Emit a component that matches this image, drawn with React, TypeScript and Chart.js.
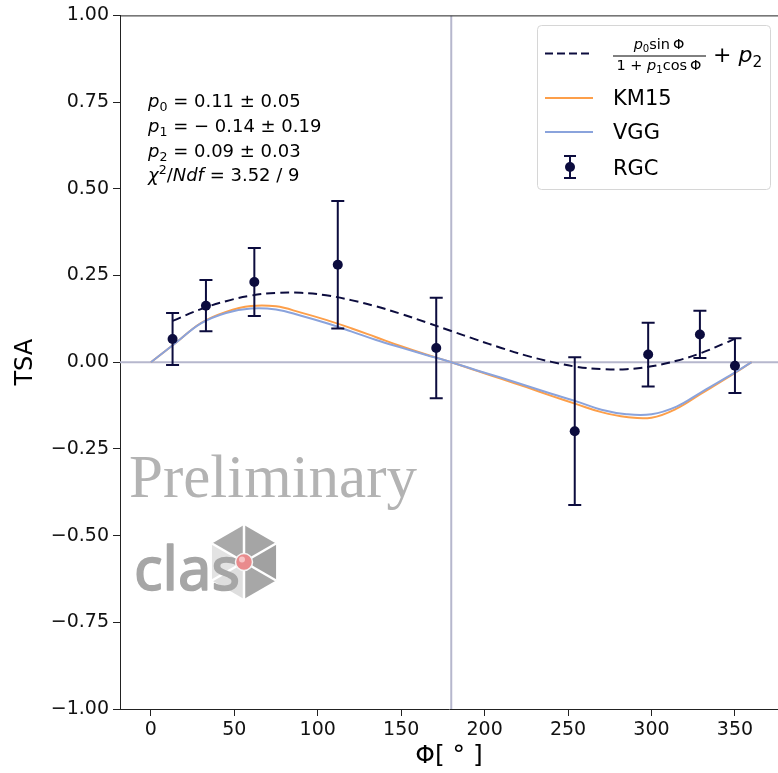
import React, { useEffect, useRef } from 'react';
import { Chart, registerables } from 'chart.js';

Chart.register(...registerables);

// ---------- data ----------
const phiPoints = [13, 33, 62, 112, 171, 254, 298, 329, 350];
const tsaValues = [0.067, 0.163, 0.231, 0.281, 0.041, -0.199, 0.022, 0.08, -0.01];
const tsaErrors = [0.075, 0.074, 0.098, 0.184, 0.145, 0.213, 0.092, 0.068, 0.079];

const fitPhi = [13, 30, 45, 60, 75, 90, 105, 120, 135, 150, 165, 180, 195, 210, 225, 240, 255, 270, 285, 300, 315, 330, 345, 350];
const fitValues = [0.119, 0.153, 0.176, 0.192, 0.2, 0.2, 0.193, 0.179, 0.161, 0.139, 0.115, 0.09, 0.065, 0.041, 0.019, 0.001, -0.013, -0.02, -0.02, -0.012, 0.004, 0.027, 0.057, 0.068];

const modelPhi = [0, 15, 30, 45, 60, 75, 90, 105, 120, 135, 150, 165, 180, 195, 210, 225, 240, 255, 270, 285, 300, 315, 330, 345, 360];
const km15Values = [0, 0.056, 0.113, 0.145, 0.162, 0.161, 0.143, 0.122, 0.098, 0.072, 0.046, 0.022, 0, -0.024, -0.048, -0.072, -0.097, -0.121, -0.144, -0.158, -0.16, -0.134, -0.09, -0.046, 0];
const vggValues = [0, 0.056, 0.112, 0.142, 0.155, 0.152, 0.134, 0.113, 0.089, 0.064, 0.042, 0.021, 0, -0.023, -0.045, -0.068, -0.091, -0.113, -0.137, -0.15, -0.15, -0.128, -0.086, -0.044, 0];

const refPhi = [180];
const refTsa = [0];

const xTickValues = [0, 50, 100, 150, 200, 250, 300, 350];
const xTickLabels = ['0', '50', '100', '150', '200', '250', '300', '350'];
const yTickValues = [-1, -0.75, -0.5, -0.25, 0, 0.25, 0.5, 0.75, 1];
const yTickLabels = ['\u22121.00', '\u22120.75', '\u22120.50', '\u22120.25', '0.00', '0.25', '0.50', '0.75', '1.00'];

const fitParamValues = ['0.11', '\u2212 0.14', '0.09'];
const fitParamErrors = ['0.05', '0.19', '0.03'];
const chi2Text = '3.52';
const ndfText = '9';

const legendLabels = ['KM15', 'VGG', 'RGC'];

// ---------- styles ----------
const FONT = '"DejaVu Sans", sans-serif';
const NAVY = '#0c0c3e';
const ORANGE = '#fd9f4a';
const BLUE = '#8aa3dc';
const REF = '#b6b7cd';

type Seg = { t: string; i?: boolean; s?: 'sub' | 'sup' };

function drawSegs(ctx: CanvasRenderingContext2D, segs: Seg[], x: number, y: number, size: number, align: 'left' | 'center') {
  const fontFor = (g: Seg) => `${g.i ? 'italic ' : ''}${g.s ? size * 0.7 : size}px ${FONT}`;
  const widths = segs.map((g) => {
    ctx.font = fontFor(g);
    return ctx.measureText(g.t).width;
  });
  const total = widths.reduce((a, b) => a + b, 0);
  let cx = align === 'center' ? x - total / 2 : x;
  ctx.textAlign = 'left';
  ctx.textBaseline = 'alphabetic';
  segs.forEach((g, k) => {
    ctx.font = fontFor(g);
    const dy = g.s === 'sub' ? size * 0.22 : g.s === 'sup' ? -size * 0.4 : 0;
    ctx.fillText(g.t, cx, y + dy);
    cx += widths[k];
  });
}

const framePlugin = {
  id: 'frameTop',
  afterDraw(chart: any) {
    const { ctx, chartArea } = chart;
    ctx.save();
    ctx.strokeStyle = '#222';
    ctx.lineWidth = 1;
    ctx.beginPath();
    ctx.moveTo(chartArea.left, chartArea.top + 0.5);
    ctx.lineTo(chartArea.right, chartArea.top + 0.5);
    ctx.stroke();
    ctx.restore();
  },
};

const errorBarPlugin = {
  id: 'errorBars',
  beforeDatasetDraw(chart: any, args: any) {
    if (chart.data.datasets[args.index].label !== 'RGC') return;
    const { ctx, scales } = chart;
    const x = scales.x;
    const y = scales.y;
    ctx.save();
    ctx.strokeStyle = NAVY;
    ctx.lineWidth = 2;
    phiPoints.forEach((p, i) => {
      const px = x.getPixelForValue(p);
      const top = y.getPixelForValue(tsaValues[i] + tsaErrors[i]);
      const bot = y.getPixelForValue(tsaValues[i] - tsaErrors[i]);
      ctx.beginPath();
      ctx.moveTo(px, top);
      ctx.lineTo(px, bot);
      ctx.moveTo(px - 6.5, top);
      ctx.lineTo(px + 6.5, top);
      ctx.moveTo(px - 6.5, bot);
      ctx.lineTo(px + 6.5, bot);
      ctx.stroke();
    });
    ctx.restore();
  },
};

const overlayPlugin = {
  id: 'overlay',
  beforeDatasetsDraw(chart: any) {
    const ctx: CanvasRenderingContext2D = chart.ctx;
    ctx.save();
    // fit parameter text box
    ctx.fillStyle = '#000';
    const base = [107, 132, 157, 181];
    for (let k = 0; k < 3; k++) {
      drawSegs(ctx, [
        { t: 'p', i: true },
        { t: String(k), s: 'sub' },
        { t: ` = ${fitParamValues[k]} \u00b1 ${fitParamErrors[k]}` },
      ], 148, base[k], 18, 'left');
    }
    drawSegs(ctx, [
      { t: '\u03c7', i: true },
      { t: '2', s: 'sup' },
      { t: '/' },
      { t: 'Ndf', i: true },
      { t: ` = ${chi2Text} / ${ndfText}` },
    ], 148, base[3], 18, 'left');

    // Preliminary watermark
    ctx.font = '61px "Liberation Serif", "DejaVu Serif", serif';
    ctx.fillStyle = '#b3b3b3';
    ctx.textAlign = 'left';
    ctx.textBaseline = 'alphabetic';
    ctx.fillText('Preliminary', 129, 497);

    // clas logo
    const cx = 244, cy = 562, R = 37;
    const verts: [number, number][] = [];
    for (let a = 0; a < 6; a++) {
      const ang = (-90 + 60 * a) * Math.PI / 180;
      verts.push([cx + R * Math.cos(ang), cy + R * Math.sin(ang)]);
    }
    const faceColors = ['#a5a5a5', '#a1a1a1', '#a7a7a7', '#dedede', '#e3e3e3', '#a9a9a9'];
    for (let a = 0; a < 6; a++) {
      const v1 = verts[a];
      const v2 = verts[(a + 1) % 6];
      ctx.beginPath();
      ctx.moveTo(cx, cy);
      ctx.lineTo(v1[0], v1[1]);
      ctx.lineTo(v2[0], v2[1]);
      ctx.closePath();
      ctx.fillStyle = faceColors[a];
      ctx.fill();
    }
    ctx.strokeStyle = '#ffffff';
    ctx.lineWidth = 2.5;
    for (let a = 0; a < 6; a++) {
      ctx.beginPath();
      ctx.moveTo(cx, cy);
      ctx.lineTo(verts[a][0], verts[a][1]);
      ctx.stroke();
    }
    ctx.font = '60px "Noto Sans", sans-serif';
    ctx.fillStyle = '#a6a6a6';
    ctx.strokeStyle = '#a6a6a6';
    ctx.lineWidth = 1.6;
    ctx.lineJoin = 'round';
    ctx.fillText('clas', 134, 590, 106);
    ctx.strokeText('clas', 134, 590, 106);
    ctx.beginPath();
    ctx.arc(cx, cy, 8.5, 0, Math.PI * 2);
    ctx.fillStyle = '#e98b8d';
    ctx.fill();
    ctx.strokeStyle = '#f4f4f4';
    ctx.lineWidth = 1.5;
    ctx.stroke();
    ctx.beginPath();
    ctx.arc(cx - 2, cy - 2.5, 3, 0, Math.PI * 2);
    ctx.fillStyle = '#f7c4c6';
    ctx.fill();
    ctx.restore();
  },
  afterDraw(chart: any) {
    const ctx: CanvasRenderingContext2D = chart.ctx;
    ctx.save();
    // legend frame
    const bx = 537.5, by = 25.5, bw = 233, bh = 164, r = 4;
    ctx.beginPath();
    ctx.moveTo(bx + r, by);
    ctx.lineTo(bx + bw - r, by);
    ctx.quadraticCurveTo(bx + bw, by, bx + bw, by + r);
    ctx.lineTo(bx + bw, by + bh - r);
    ctx.quadraticCurveTo(bx + bw, by + bh, bx + bw - r, by + bh);
    ctx.lineTo(bx + r, by + bh);
    ctx.quadraticCurveTo(bx, by + bh, bx, by + bh - r);
    ctx.lineTo(bx, by + r);
    ctx.quadraticCurveTo(bx, by, bx + r, by);
    ctx.closePath();
    ctx.fillStyle = 'rgba(255,255,255,0.8)';
    ctx.fill();
    ctx.strokeStyle = '#d6d6d6';
    ctx.lineWidth = 1;
    ctx.stroke();

    // dashed sample
    ctx.strokeStyle = NAVY;
    ctx.lineWidth = 2;
    ctx.setLineDash([8, 4]);
    ctx.beginPath();
    ctx.moveTo(545, 53.5);
    ctx.lineTo(593, 53.5);
    ctx.stroke();
    ctx.setLineDash([]);
    // fraction label
    ctx.fillStyle = '#000';
    drawSegs(ctx, [{ t: 'p', i: true }, { t: '0', s: 'sub' }, { t: 'sin\u2009\u03a6' }], 659, 49, 14.5, 'center');
    ctx.lineWidth = 1;
    ctx.strokeStyle = '#000';
    ctx.beginPath();
    ctx.moveTo(613, 56);
    ctx.lineTo(706, 56);
    ctx.stroke();
    drawSegs(ctx, [{ t: '1 + ' }, { t: 'p', i: true }, { t: '1', s: 'sub' }, { t: 'cos\u2009\u03a6' }], 659, 70, 14.5, 'center');
    drawSegs(ctx, [{ t: '+ ' }, { t: 'p', i: true }, { t: '2', s: 'sub' }], 713, 62, 22, 'left');

    // KM15
    ctx.strokeStyle = ORANGE;
    ctx.lineWidth = 2;
    ctx.beginPath();
    ctx.moveTo(545, 98);
    ctx.lineTo(593, 98);
    ctx.stroke();
    // VGG
    ctx.strokeStyle = BLUE;
    ctx.beginPath();
    ctx.moveTo(545, 132);
    ctx.lineTo(593, 132);
    ctx.stroke();
    // RGC
    ctx.strokeStyle = NAVY;
    ctx.beginPath();
    ctx.moveTo(570, 156);
    ctx.lineTo(570, 178);
    ctx.moveTo(564, 156);
    ctx.lineTo(576, 156);
    ctx.moveTo(564, 178);
    ctx.lineTo(576, 178);
    ctx.stroke();
    ctx.beginPath();
    ctx.arc(570, 167, 5, 0, Math.PI * 2);
    ctx.fillStyle = NAVY;
    ctx.fill();

    ctx.fillStyle = '#000';
    ctx.font = `21px ${FONT}`;
    ctx.textAlign = 'left';
    ctx.textBaseline = 'alphabetic';
    ctx.fillText(legendLabels[0], 613, 105);
    ctx.fillText(legendLabels[1], 613, 139);
    ctx.fillText(legendLabels[2], 613, 175);
    ctx.restore();
  },
};

export default function App() {
  const ref = useRef<HTMLCanvasElement>(null);

  useEffect(() => {
    const canvas = ref.current;
    if (!canvas) return;
    const xy = (xs: number[], ys: number[]) => xs.map((v, i) => ({ x: v, y: ys[i] }));
    const axisGrid = { drawOnChartArea: false, drawTicks: true, tickLength: 7, tickColor: '#222', tickWidth: 1 };
    const axisBorder = { display: true, color: '#222', width: 1 };
    const chart = new Chart(canvas, {
      type: 'scatter',
      data: {
        datasets: [
          {
            label: 'RGC',
            data: xy(phiPoints, tsaValues),
            pointRadius: 5,
            pointBackgroundColor: NAVY,
            pointBorderColor: NAVY,
            pointBorderWidth: 0,
            showLine: false,
            order: 0,
          },
          {
            label: 'fit',
            data: xy(fitPhi, fitValues),
            showLine: true,
            borderColor: NAVY,
            borderWidth: 2,
            borderDash: [9, 5],
            pointRadius: 0,
            tension: 0.4,
            order: 1,
          },
          {
            label: 'VGG',
            data: xy(modelPhi, vggValues),
            showLine: true,
            borderColor: BLUE,
            borderWidth: 2,
            pointRadius: 0,
            tension: 0.4,
            order: 2,
          },
          {
            label: 'KM15',
            data: xy(modelPhi, km15Values),
            showLine: true,
            borderColor: ORANGE,
            borderWidth: 2,
            pointRadius: 0,
            tension: 0.4,
            order: 3,
          },
          {
            label: 'vref',
            data: [{ x: refPhi[0], y: -1 }, { x: refPhi[0], y: 1 }],
            showLine: true,
            borderColor: REF,
            borderWidth: 2,
            pointRadius: 0,
            order: 5,
          },
          {
            label: 'href',
            data: [{ x: -18.5, y: refTsa[0] }, { x: 375.8, y: refTsa[0] }],
            showLine: true,
            borderColor: REF,
            borderWidth: 2,
            pointRadius: 0,
            order: 6,
          },
        ],
      },
      options: {
        responsive: false,
        animation: false,
        devicePixelRatio: 1,
        events: [],
        layout: { autoPadding: false, padding: { top: 13, left: 0, right: 0, bottom: 0 } },
        plugins: { legend: { display: false }, tooltip: { enabled: false } },
        scales: {
          x: {
            type: 'linear',
            min: -18.5,
            max: 375.8,
            afterBuildTicks: (s: any) => {
              s.ticks = xTickValues.map((v) => ({ value: v }));
            },
            afterFit: (s: any) => {
              s.height = 64;
            },
            ticks: {
              font: { family: FONT, size: 19 },
              color: '#111',
              padding: 3,
              maxRotation: 0,
              autoSkip: false,
              callback: (_v: any, i: number) => xTickLabels[i],
            },
            grid: axisGrid,
            border: axisBorder,
            title: {
              display: true,
              text: '\u03a6[ \u00b0 ]',
              font: { family: FONT, size: 25, lineHeight: 1 },
              color: '#000',
              padding: { top: 0, bottom: 4 },
            },
          },
          y: {
            type: 'linear',
            min: -1,
            max: 1,
            afterBuildTicks: (s: any) => {
              s.ticks = yTickValues.map((v) => ({ value: v }));
            },
            afterFit: (s: any) => {
              s.width = 120;
            },
            ticks: {
              font: { family: FONT, size: 19 },
              color: '#111',
              padding: 4,
              autoSkip: false,
              callback: (_v: any, i: number) => yTickLabels[i],
            },
            grid: axisGrid,
            border: axisBorder,
            title: {
              display: true,
              text: 'TSA',
              font: { family: FONT, size: 24, lineHeight: 1 },
              color: '#000',
              padding: { top: 14, bottom: 0 },
            },
          },
        },
      },
      plugins: [overlayPlugin, errorBarPlugin, framePlugin],
    } as any);
    return () => chart.destroy();
  }, []);

  return (
    <div style={{ position: 'absolute', left: 0, top: 0, width: 778, height: 773, background: '#fff', overflow: 'hidden' }}>
      <canvas ref={ref} width={778} height={773} style={{ width: 778, height: 773, display: 'block' }} />
    </div>
  );
}
